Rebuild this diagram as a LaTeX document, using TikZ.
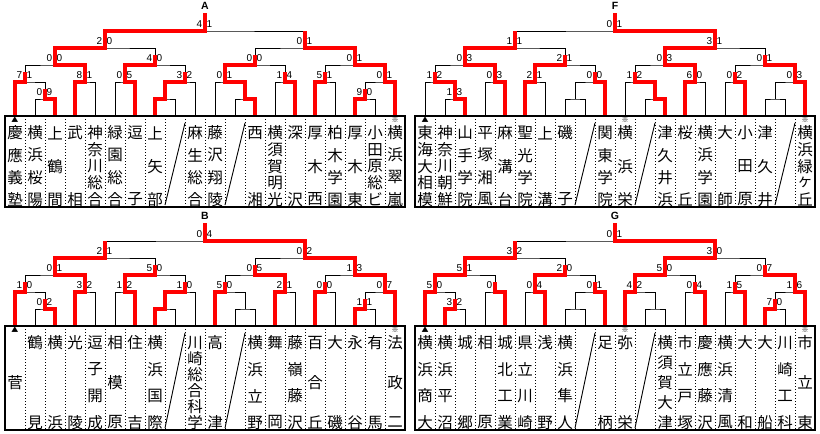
\documentclass[tikz,border=0pt]{standalone}
\usepackage{fontspec}
\setmainfont{Liberation Sans}
\newfontfamily\jp{Noto Sans CJK JP}

\newcommand\boxh{91}
\newcommand\drawblock[3]{%
  \begin{scope}[shift={(#2,#3)}]
    \foreach \i in {1,...,20} \coordinate (#1\i) at (20*\i-5,116);
    \foreach \m/\px/\py in {m1/45/99, m2/25/82, m3/85/82, m4/55/65, m5/125/82,
        m6/165/99, m7/185/82, m8/155/65, m9/105/48, m10/245/99, m11/225/82,
        m12/285/82, m13/255/65, m14/325/82, m15/365/99, m16/385/82,
        m17/355/65, m18/305/48, m19/205/31, top/205/13}
      \coordinate (#1\m) at (\px,\py);
    \node[blocklabel] (#1lab) at (205,6) {#1};
  \end{scope}
  \foreach \m/\l/\r in {m1/2/3, m2/1/m1, m3/4/5, m4/m2/m3, m5/6/7, m6/8/9,
      m7/m6/10, m8/m5/m7, m9/m4/m8, m10/12/13, m11/11/m10, m12/14/15,
      m13/m11/m12, m14/16/17, m15/18/19, m16/m15/20, m17/m14/m16,
      m18/m13/m17, m19/m9/m18}
    \draw[bracketline] (#1\l) |- (#1\m) -| (#1\r);
  \draw[bracketline] (#1m19) -- (#1top);
}
\newcommand\teambox[3]{%
  \draw[boxline] (#11) ++(-10,0) rectangle ++(400,#2);
  \foreach \i in {1,...,19} \draw[colsep] (#1\i) ++(10,0) -- ++(0,#2);
  \foreach \i in {#3} \draw[byeline] (#1\i) ++(-10,#2-2) -- ++(20,9-#2);
}
\newcommand\score[3]{\node[scl] (#1l) at (#1) {#2}; \node[scr] (#1r) at (#1) {#3};}
\makeatletter
\newcommand\team[3]{\edef\tname{#3}\expandafter\teamx\expandafter{\tname}{#1}{#2}}
\newcommand\teamx[3]{%
  \def\nch{0}%
  \@tfor\ch:=#1\do{\edef\nch{\the\numexpr\nch+1\relax}}%
  \def\chk{0}%
  \@tfor\ch:=#1\do{%
    \edef\chk{\the\numexpr\chk+1\relax}%
    \pgfmathsetmacro\dd{\nch==1 ? (\boxh+9.5)/2 : 17+(\chk-1)*(\boxh-24.5)/max(\nch-1,1)}%
    \node[teamchar] (#2#3c\chk) at ([yshift=-\dd pt]#2#3) {\ch};}}
\makeatother

\begin{document}
\begin{tikzpicture}[x=1pt,y=-1pt,
	bracketline/.style={line width=1pt},
	winpath/.style={draw=red,line width=3.3pt},
	boxline/.style={line width=2pt},
	colsep/.style={line width=0.8pt,dash pattern=on 1pt off 2pt},
	byeline/.style={line width=0.9pt},
	teamchar/.style={font=\jp\fontsize{15.5}{15.5}\selectfont,inner sep=0pt},
	seed/.style={font=\jp\bfseries\fontsize{7}{7}\selectfont,inner sep=0pt},
	scl/.style={font=\fontsize{10}{10}\selectfont,inner sep=0pt,anchor=base east,xshift=-2.5pt,yshift=4pt},
	scr/.style={font=\fontsize{10}{10}\selectfont,inner sep=0pt,anchor=base west,xshift=1.5pt,yshift=4pt},
	blocklabel/.style={font=\bfseries\fontsize{10.5}{10.5}\selectfont,inner sep=0pt}]
	\useasboundingbox (0,0) rectangle (820,434);
	\drawblock{A}{0}{0}
	\drawblock{F}{410}{0}
	\drawblock{B}{0}{210}
	\drawblock{G}{410}{210}

	% scores
	\foreach \m/\l/\r in {m1/0/9, m2/7/1, m3/8/1, m4/0/0, m5/0/5, m7/3/2, m8/4/0, m9/2/0,
		m11/0/1, m12/1/4, m13/0/0, m14/5/1, m15/9/0, m16/0/1, m17/0/1, m18/0/1, m19/4/1}
		{\score{A\m}{\l}{\r}}
	\foreach \m/\l/\r in {m1/1/3, m2/1/2, m3/0/3, m4/0/3, m5/2/1, m7/0/0, m8/2/1, m9/1/1,
		m11/1/2, m12/6/0, m13/0/3, m14/0/2, m16/0/3, m17/0/1, m18/3/1, m19/0/1}
		{\score{F\m}{\l}{\r}}
	\foreach \m/\l/\r in {m1/0/2, m2/1/0, m3/3/2, m4/0/1, m5/1/2, m7/1/0, m8/5/0, m9/2/1,
		m11/5/0, m12/2/1, m13/0/5, m14/0/0, m15/1/1, m16/0/7, m17/1/3, m18/0/2, m19/0/4}
		{\score{B\m}{\l}{\r}}
	\foreach \m/\l/\r in {m1/3/2, m2/5/0, m3/0/{}, m4/5/1, m5/0/4, m7/0/1, m8/2/0, m9/3/2,
		m11/4/2, m12/0/4, m13/5/0, m14/1/5, m15/7/0, m16/1/6, m17/0/7, m18/3/0, m19/0/1}
		{\score{G\m}{\l}{\r}}

	% winners
	\draw[winpath] (A3) |- (Am1) -- ++(0,-10.5);
	\draw[winpath] (A1) |- (Am2) -- ++(0,-10.5);
	\draw[winpath] (A4) |- (Am3) |- (Am4) |- (Am9) |- (Am19) -- (Atop);
	\draw[winpath] (A7) |- (Am5) |- (Am8) -- ++(0,-10.5);
	\draw[winpath] (A8) |- (Am6) |- (Am7) -- ++(0,-10.5);
	\draw[winpath] (A13) |- (Am10) |- (Am11) |- (Am13) -- ++(0,-10.5);
	\draw[winpath] (A15) |- (Am12) -- ++(0,-10.5);
	\draw[winpath] (A16) |- (Am14) -- ++(0,-10.5);
	\draw[winpath] (A18) |- (Am15) -- ++(0,-10.5);
	\draw[winpath] (A20) |- (Am16) |- (Am17) |- (Am18) -- (Am18 |- Am19);

	\draw[winpath] (F3) |- (Fm1) |- (Fm2) -- ++(0,-10.5);
	\draw[winpath] (F5) |- (Fm3) |- (Fm4) |- (Fm9) -- (Fm9 |- Fm19);
	\draw[winpath] (F6) |- (Fm5) |- (Fm8) -- ++(0,-10.5);
	\draw[winpath] (F10) |- (Fm7) -- ++(0,-10.5);
	\draw[winpath] (F13) |- (Fm10) |- (Fm11) -- ++(0,-10.5);
	\draw[winpath] (F14) |- (Fm12) |- (Fm13) |- (Fm18) |- (Fm19) -- (Ftop);
	\draw[winpath] (F17) |- (Fm14) -- ++(0,-10.5);
	\draw[winpath] (F20) |- (Fm16) |- (Fm17) -- ++(0,-10.5);

	\draw[winpath] (B3) |- (Bm1) -- ++(0,-10.5);
	\draw[winpath] (B1) |- (Bm2) -- ++(0,-10.5);
	\draw[winpath] (B4) |- (Bm3) |- (Bm4) |- (Bm9) -- (Bm9 |- Bm19);
	\draw[winpath] (B7) |- (Bm5) |- (Bm8) -- ++(0,-10.5);
	\draw[winpath] (B8) |- (Bm6) |- (Bm7) -- ++(0,-10.5);
	\draw[winpath] (B11) |- (Bm11) -- ++(0,-10.5);
	\draw[winpath] (B14) |- (Bm12) |- (Bm13) -- ++(0,-10.5);
	\draw[winpath] (B16) |- (Bm14) -- ++(0,-10.5);
	\draw[winpath] (B18) |- (Bm15) -- ++(0,-10.5);
	\draw[winpath] (B20) |- (Bm16) |- (Bm17) |- (Bm18) |- (Bm19) -- (Btop);

	\draw[winpath] (G2) |- (Gm1) -- ++(0,-10.5);
	\draw[winpath] (G1) |- (Gm2) |- (Gm4) |- (Gm9) -- (Gm9 |- Gm19);
	\draw[winpath] (G5) |- (Gm3) -- ++(0,-10.5);
	\draw[winpath] (G7) |- (Gm5) |- (Gm8) -- ++(0,-10.5);
	\draw[winpath] (G10) |- (Gm7) -- ++(0,-10.5);
	\draw[winpath] (G11) |- (Gm11) |- (Gm13) |- (Gm18) |- (Gm19) -- (Gtop);
	\draw[winpath] (G15) |- (Gm12) -- ++(0,-10.5);
	\draw[winpath] (G17) |- (Gm14) -- ++(0,-10.5);
	\draw[winpath] (G18) |- (Gm15) -- ++(0,-10.5);
	\draw[winpath] (G20) |- (Gm16) |- (Gm17) -- ++(0,-10.5);

	% team boxes
	\teambox{A}{91}{9,12}
	\teambox{F}{91}{9,12,19}
	\teambox{B}{104}{9,12}
	\teambox{G}{104}{9,12}

	\renewcommand\boxh{91}
	\foreach \c/\t in {1/慶應義塾, 2/横浜桜陽, 3/上鶴間, 4/武相, 5/神奈川総合, 6/緑園総合,
		7/逗子, 8/上矢部, 10/麻生総合, 11/藤沢翔陵, 13/西湘, 14/横須賀明光, 15/深沢,
		16/厚木西, 17/柏木学園, 18/厚木東, 19/小田原総ビ, 20/横浜翠嵐}
		{\team{A}{\c}{\t}}
	\foreach \c/\t in {1/東海大相模, 2/神奈川朝鮮, 3/山手学院, 4/平塚湘風, 5/麻溝台, 6/聖光学院,
		7/上溝, 8/磯子, 10/関東学院, 11/横浜栄, 13/津久井浜, 14/桜丘, 15/横浜学園,
		16/大師, 17/小田原, 18/津久井, 20/横浜緑ヶ丘}
		{\team{F}{\c}{\t}}
	\renewcommand\boxh{104}
	\foreach \c/\t in {1/菅, 2/鶴見, 3/横浜, 4/光陵, 5/逗子開成, 6/相模原, 7/住吉, 8/横浜国際,
		10/川崎総合科学, 11/高津, 13/横浜立野, 14/舞岡, 15/藤嶺藤沢, 16/百合丘, 17/大磯,
		18/永谷, 19/有馬, 20/法政二}
		{\team{B}{\c}{\t}}
	\foreach \c/\t in {1/横浜商大, 2/横浜平沼, 3/城郷, 4/相原, 5/城北工業, 6/県立川崎, 7/浅野,
		8/横浜隼人, 10/足柄, 11/弥栄, 13/横須賀大津, 14/市立戸塚, 15/慶應藤沢, 16/横浜清風,
		17/大和, 18/大船, 19/川崎工科, 20/市立東}
		{\team{G}{\c}{\t}}

	% seeds
	\foreach \b in {A,F,B,G} {\node[seed] (\b1s) at ([yshift=-3.5pt]\b1) {▲};}
	\foreach \b/\c in {A/20, F/11, F/20, B/20, G/11, G/20} {\node[seed] (\b\c s) at ([yshift=-4pt]\b\c) {※};}
\end{tikzpicture}
\end{document}
